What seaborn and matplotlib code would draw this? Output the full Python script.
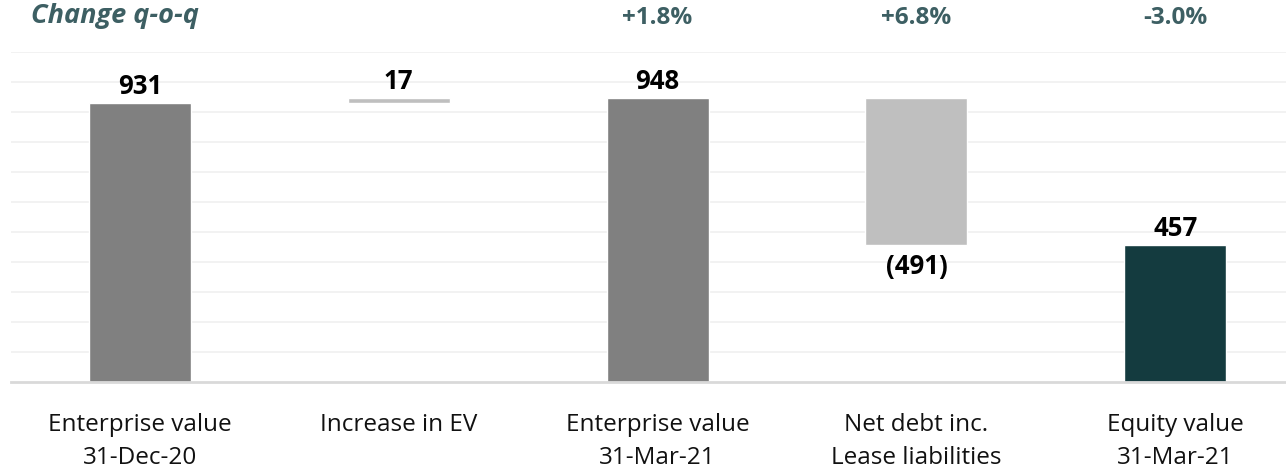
import matplotlib
matplotlib.use("Agg")
import matplotlib.pyplot as plt
import matplotlib.transforms as mtransforms
import seaborn as sns
import numpy as np

# data
categories = ["Enterprise value\n31-Dec-20", "Increase in EV", "Enterprise value\n31-Mar-21",
              "Net debt inc.\nLease liabilities", "Equity value\n31-Mar-21"]
values = [931, 17, 948, -491, 457]
is_total = [True, False, True, False, True]
changes = ["", "", "+1.8%", "+6.8%", "-3.0%"]
bar_colors = ["#808080", "#bfbfbf", "#808080", "#bfbfbf", "#143b3f"]

sns.set_theme(style="white")
plt.rcParams["font.family"] = ["Open Sans", "DejaVu Sans"]

fig = plt.figure(figsize=(12.86, 4.71), dpi=100)
ax = fig.add_axes([10.6 / 1286, 89 / 471, 1294 / 1286, 0.7006])

# waterfall bottoms
bottoms = []
heights = []
running = 0
for v, tot in zip(values, is_total):
    if tot:
        bottoms.append(0)
        heights.append(v)
        running = v
    else:
        if v >= 0:
            bottoms.append(running)
            heights.append(v)
        else:
            bottoms.append(running + v)
            heights.append(-v)
        running += v

width = 0.394
tot_idx = [i for i, t in enumerate(is_total) if t]
sns.barplot(x=[categories[i] for i in tot_idx], y=[values[i] for i in tot_idx],
            hue=[categories[i] for i in tot_idx], palette=[bar_colors[i] for i in tot_idx],
            order=categories, width=width, legend=False, ax=ax, saturation=1)
for i, t in enumerate(is_total):
    if not t:
        ax.bar(i, heights[i], bottom=bottoms[i], width=width, color=bar_colors[i])

# value labels
for i, v in enumerate(values):
    if v >= 0:
        ax.annotate(f"{v}", (i, bottoms[i] + heights[i]), xytext=(0, 2), textcoords="offset points",
                    ha="center", va="bottom", fontsize=18.5, fontweight="bold", color="black")
    else:
        ax.annotate(f"({-v})", (i, bottoms[i]), xytext=(0, -6), textcoords="offset points",
                    ha="center", va="top", fontsize=18.5, fontweight="bold", color="black")

ax.set_xlim(-0.5, 4.5)
ax.set_ylim(0, 1100)
ax.set_yticks(np.arange(100, 1101, 100))
ax.yaxis.grid(True, color="#f0f0f0", linewidth=1.2)
ax.set_axisbelow(True)
ax.set_yticklabels([])
ax.tick_params(axis="y", length=0)
ax.tick_params(axis="x", length=0, pad=22, labelsize=17.5, labelcolor="#111111")
ax.set_xlabel("")
ax.set_ylabel("")
for s in ["top", "left", "right"]:
    ax.spines[s].set_visible(False)
ax.spines["bottom"].set_color("#d9d9d9")
ax.spines["bottom"].set_linewidth(2)
for lab in ax.get_xticklabels():
    lab.set_linespacing(1.5)

# header
teal = "#3d5f63"
fig.text(31 / 1286, 1 - 16 / 471, "Change q-o-q", fontsize=19.5, fontweight="bold", style="italic",
         color=teal, va="center", ha="left")
trans = mtransforms.blended_transform_factory(ax.transData, fig.transFigure)
for i, c in enumerate(changes):
    if c:
        ax.text(i, 1 - 18 / 471, c, transform=trans, ha="center", va="center",
                fontsize=17.5, fontweight="bold", color=teal)

fig.savefig("out.png", dpi=100)
